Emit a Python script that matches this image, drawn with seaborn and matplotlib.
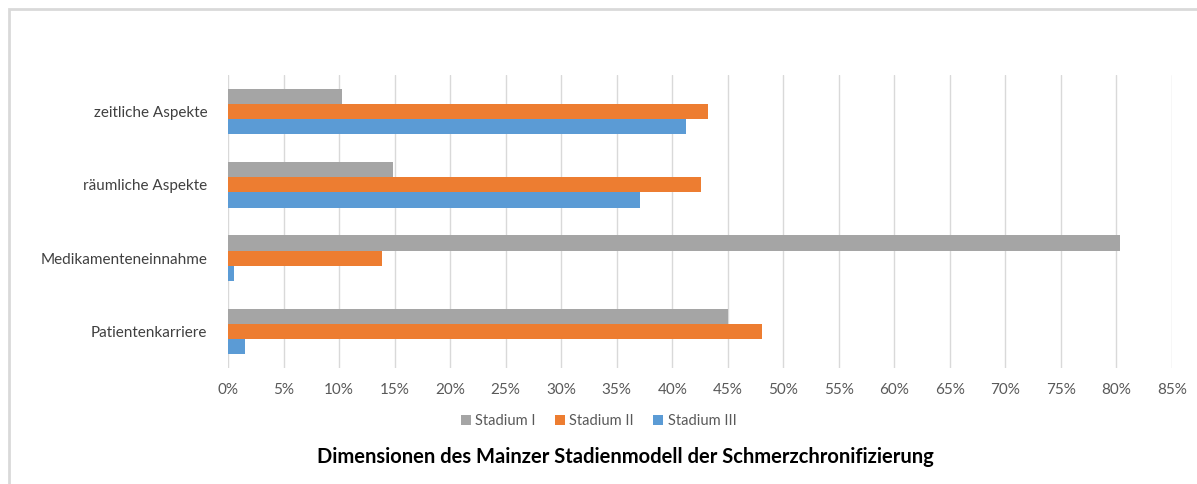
import numpy as np
import pandas as pd
import matplotlib.pyplot as plt
import seaborn as sns
from matplotlib.patches import Rectangle
from matplotlib.ticker import PercentFormatter

# Values (percent)
categories = ["zeitliche Aspekte", "räumliche Aspekte", "Medikamenteneinnahme", "Patientenkarriere"]
series = ["Stadium I", "Stadium II", "Stadium III"]
stadium_1 = [10.3, 14.9, 80.3, 45.0]
stadium_2 = [43.2, 42.6, 13.9, 48.1]
stadium_3 = [41.2, 37.1, 0.5, 1.5]
x_ticks = list(range(0, 90, 5))
colors = ["#A5A5A5", "#ED7D31", "#5B9BD5"]

####################################################################################

df = pd.DataFrame({"Kategorie": categories,
                   "Stadium I": stadium_1,
                   "Stadium II": stadium_2,
                   "Stadium III": stadium_3})
df = pd.melt(df, id_vars="Kategorie", var_name="Stadium", value_name="Wert")

sns.set_style("white")
plt.rcParams["font.family"] = ["Lato", "DejaVu Sans"]

fig = plt.figure(figsize=(11.97, 4.84), dpi=100)
ax = fig.add_axes([228 / 1197, 1 - 368 / 484, (1172 - 228) / 1197, (368 - 75) / 484])

sns.barplot(data=df, x="Wert", y="Kategorie", hue="Stadium", order=categories,
            hue_order=series, palette=colors, orient="h", width=0.62,
            saturation=1, errorbar=None, linewidth=0, ax=ax, legend=True)

ax.set_xlim(0, 85)
ax.set_xticks(x_ticks)
ax.xaxis.set_major_formatter(PercentFormatter(decimals=0))
ax.grid(axis="x", color="#D9D9D9", linewidth=1)
ax.set_axisbelow(True)
sns.despine(ax=ax, left=True, bottom=True)
ax.set_xlabel("")
ax.set_ylabel("")
ax.tick_params(axis="x", length=0, pad=11, labelsize=11, labelcolor="#595959")
ax.tick_params(axis="y", length=0, pad=15, labelsize=11, labelcolor="#404040")

# legend under the axis, centred on the figure
handles, labels = ax.get_legend_handles_labels()
ax.legend_.remove()
fig.legend(handles, labels, loc="center", bbox_to_anchor=(0.5, 1 - 421 / 484),
           ncol=3, frameon=False, fontsize=10.5, handlelength=0.7, handleheight=0.7,
           handletextpad=0.3, columnspacing=1.3, labelcolor="#595959")

fig.text(625 / 1197, 1 - 457 / 484,
         "Dimensionen des Mainzer Stadienmodell der Schmerzchronifizierung",
         ha="center", va="center", fontsize=14.5, fontweight="bold", color="#000000")

# light chart border like the original
fig.patches.append(Rectangle((8.5 / 1197, -0.01), 1.02, 1 - 8.5 / 484 + 0.01,
                             transform=fig.transFigure, fill=False,
                             edgecolor="#D9D9D9", linewidth=2))

fig.savefig("out.png", dpi=100)
